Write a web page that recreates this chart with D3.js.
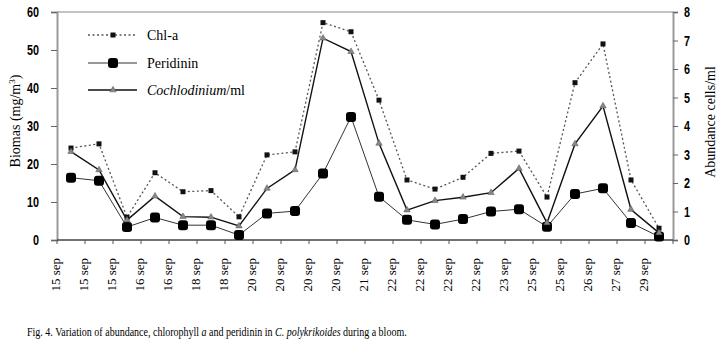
<!DOCTYPE html>
<html>
<head>
<meta charset="utf-8">
<script src="https://cdn.jsdelivr.net/npm/d3@7"></script>
<style>
  body { margin: 0; background: #fff; }
  svg text { font-family: "Liberation Serif", "Times New Roman", serif; fill: #000; }
  .tick-num { font-family: "Liberation Sans", Arial, sans-serif; font-weight: bold; font-size: 15px; }
</style>
</head>
<body>
<div id="chart"></div>
<script>
var dates = ["15 sep", "15 sep", "15 sep", "16 sep", "16 sep", "18 sep", "18 sep", "20 sep", "20 sep", "20 sep", "20 sep",
  "21 sep", "22 sep", "22 sep", "22 sep", "22 sep", "23 sep", "25 sep", "25 sep", "26 sep", "27 sep", "29 sep"];

// left axis (mg/m3)
var chla = [24.2, 25.3, 6, 17.7, 12.7, 13, 6.1, 22.4, 23.2, 57.2, 54.8,
  36.8, 15.8, 13.4, 16.5, 22.8, 23.4, 11.3, 41.4, 51.6, 15.8, 3.1];
var peridinin = [16.4, 15.6, 3.4, 5.9, 3.9, 3.9, 1.3, 7.0, 7.6, 17.5, 32.4,
  11.4, 5.3, 4.1, 5.5, 7.5, 8.1, 3.5, 12.1, 13.6, 4.5, 0.9];
// right axis (cells/ml)
var cochlo = [3.1, 2.46, 0.7, 1.54, 0.82, 0.8, 0.49, 1.81, 2.46, 7.08, 6.61,
  3.39, 1.05, 1.38, 1.5, 1.66, 2.51, 0.6, 3.37, 4.7, 1.07, 0.25];

var leftTicks = [0, 10, 20, 30, 40, 50, 60];
var rightTicks = [0, 1, 2, 3, 4, 5, 6, 7, 8];

var width = 718, height = 342;
var x0 = 57, x1 = 673, yTop = 12, yBot = 240;
var squeeze = 0.72; // tick numbers are a narrow bold face

var svg = d3.select("#chart").append("svg")
  .attr("width", width)
  .attr("height", height);

var x = d3.scaleBand()
  .domain(d3.range(dates.length))
  .range([x0, x1]);

var yL = d3.scaleLinear().domain([0, 60]).range([yBot, yTop]);
var yR = d3.scaleLinear().domain([0, 8]).range([yBot, yTop]);

function cx(i) { return x(i) + x.bandwidth() / 2; }

// frame top
svg.append("line")
  .attr("x1", x0).attr("x2", x1).attr("y1", yTop).attr("y2", yTop)
  .attr("stroke", "#888").attr("stroke-width", 1);

// left axis
var gl = svg.append("g").attr("transform", "translate(" + x0 + ",0)")
  .call(d3.axisLeft(yL).tickValues(leftTicks).tickSize(6));
gl.select(".domain").attr("stroke", "#999").attr("stroke-width", 2);
gl.selectAll(".tick line").attr("stroke", "#666");
gl.selectAll(".tick text").attr("class", "tick-num").attr("fill", "#000")
  .attr("x", -18 / squeeze).attr("transform", "scale(" + squeeze + ",1)");

// right axis
var gr = svg.append("g").attr("transform", "translate(" + x1 + ",0)")
  .call(d3.axisRight(yR).tickValues(rightTicks).tickSize(5));
gr.select(".domain").attr("stroke", "#999").attr("stroke-width", 2);
gr.selectAll(".tick line").attr("stroke", "#666");
gr.selectAll(".tick text").attr("class", "tick-num").attr("fill", "#000")
  .attr("x", 11 / squeeze).attr("transform", "scale(" + squeeze + ",1)");

// bottom axis, ticks on category boundaries
var bounds = d3.range(dates.length + 1).map(function (i) { return i < dates.length ? x(i) : x1; });
svg.append("line")
  .attr("x1", x0).attr("x2", x1).attr("y1", yBot).attr("y2", yBot)
  .attr("stroke", "#444").attr("stroke-width", 1.5);
svg.selectAll(".xtick").data(bounds).enter().append("line")
  .attr("x1", function (d) { return d; }).attr("x2", function (d) { return d; })
  .attr("y1", yBot).attr("y2", yBot + 4)
  .attr("stroke", "#555");

svg.selectAll(".xlab").data(dates).enter().append("text")
  .attr("transform", function (d, i) { return "translate(" + (x(i) + 3) + ",258) rotate(-90)"; })
  .attr("text-anchor", "end")
  .style("font-size", "13px")
  .text(function (d) { return d; });

// axis titles
svg.append("text")
  .attr("transform", "translate(20,121) rotate(-90)")
  .attr("text-anchor", "middle")
  .style("font-size", "14px")
  .html("Biomas (mg/m<tspan dy='-5' font-size='9px'>3</tspan><tspan dy='5'>)</tspan>");

svg.append("text")
  .attr("transform", "translate(715,122) rotate(-90)")
  .attr("text-anchor", "middle")
  .style("font-size", "14px")
  .text("Abundance cells/ml");

// lines
var lineL = d3.line().x(function (d, i) { return cx(i); }).y(function (d) { return yL(d); });
var lineR = d3.line().x(function (d, i) { return cx(i); }).y(function (d) { return yR(d); });

svg.append("path").datum(chla)
  .attr("d", lineL).attr("fill", "none")
  .attr("stroke", "#555").attr("stroke-width", 1.3).attr("stroke-dasharray", "2,2.5");

svg.append("path").datum(peridinin)
  .attr("d", lineL).attr("fill", "none")
  .attr("stroke", "#333").attr("stroke-width", 1);

svg.append("path").datum(cochlo)
  .attr("d", lineR).attr("fill", "none")
  .attr("stroke", "#111").attr("stroke-width", 1.4);

// markers
svg.selectAll(".chl").data(chla).enter().append("rect")
  .attr("x", function (d, i) { return cx(i) - 2.5; })
  .attr("y", function (d) { return yL(d) - 2.5; })
  .attr("width", 5).attr("height", 5)
  .attr("fill", "#111");

svg.selectAll(".per").data(peridinin).enter().append("rect")
  .attr("x", function (d, i) { return cx(i) - 5; })
  .attr("y", function (d) { return yL(d) - 5; })
  .attr("width", 10).attr("height", 10).attr("rx", 3)
  .attr("fill", "#000");

var tri = d3.symbol().type(d3.symbolTriangle).size(18);
svg.selectAll(".coc").data(cochlo).enter().append("path")
  .attr("d", tri)
  .attr("transform", function (d, i) { return "translate(" + cx(i) + "," + yR(d) + ")"; })
  .attr("fill", "#888").attr("stroke", "#555").attr("stroke-width", 0.5);

// legend
var leg = svg.append("g");
leg.append("line").attr("x1", 88).attr("x2", 137).attr("y1", 35).attr("y2", 35)
  .attr("stroke", "#555").attr("stroke-width", 1.3).attr("stroke-dasharray", "2,2.5");
leg.append("rect").attr("x", 110.5).attr("y", 32.5).attr("width", 5).attr("height", 5).attr("fill", "#111");
leg.append("text").attr("x", 147).attr("y", 40).style("font-size", "14px").text("Chl-a");

leg.append("line").attr("x1", 88).attr("x2", 137).attr("y1", 63).attr("y2", 63)
  .attr("stroke", "#333").attr("stroke-width", 1);
leg.append("rect").attr("x", 108).attr("y", 58).attr("width", 10).attr("height", 10).attr("rx", 3).attr("fill", "#000");
leg.append("text").attr("x", 147).attr("y", 68).style("font-size", "14px").text("Peridinin");

leg.append("line").attr("x1", 88).attr("x2", 137).attr("y1", 90).attr("y2", 90)
  .attr("stroke", "#111").attr("stroke-width", 1.4);
leg.append("path").attr("d", tri).attr("transform", "translate(113,90)")
  .attr("fill", "#888").attr("stroke", "#555").attr("stroke-width", 0.5);
leg.append("text").attr("x", 147).attr("y", 95).style("font-size", "14px")
  .html("<tspan font-style='italic'>Cochlodinium</tspan>/ml");

// caption, squeezed to the reference width
var cap = svg.append("text")
  .attr("x", 0).attr("y", 0)
  .style("font-size", "13px")
  .html("Fig. 4. Variation of abundance, chlorophyll <tspan font-style='italic'>a</tspan> and peridinin in <tspan font-style='italic'>C. polykrikoides</tspan> during a bloom.");
var capLen = cap.node().getComputedTextLength();
cap.attr("transform", "translate(27,336) scale(" + (380 / capLen) + ",1)");
</script>
</body>
</html>
